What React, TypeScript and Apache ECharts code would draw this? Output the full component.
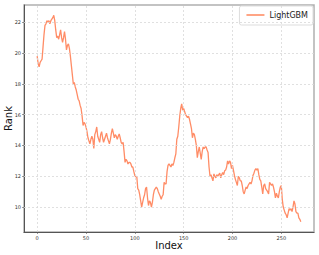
import React, { useEffect, useRef } from "react";
import * as echarts from "echarts";

const rankValues: number[] = [
  19.8, 19.3, 19.1, 19.4, 19.5, 19.6, 20.4, 21.2, 21.8, 21.9,
  22.1, 22.0, 22.1, 21.9, 22.1, 22.2, 22.3, 22.45, 22.1, 21.5,
  21.0, 21.1, 20.9, 21.2, 21.5, 21.0, 20.7, 21.0, 21.4, 20.9,
  20.2, 20.5, 20.6, 20.3, 19.8, 19.2, 18.6, 18.0, 18.1, 17.8,
  17.6, 17.3, 17.0, 16.9, 16.6, 16.4, 15.9, 15.3, 15.5, 15.4,
  15.2, 14.9, 14.5, 14.3, 14.1, 14.4, 14.6, 14.4, 13.8, 14.7,
  14.9, 15.2, 14.6, 14.4, 14.2, 14.7, 14.9, 14.5, 14.2, 14.4,
  14.6, 14.8, 14.5, 14.3, 14.1, 14.4, 14.8, 15.1, 14.8, 14.5,
  14.7, 14.6, 14.4, 14.6, 14.75, 14.5, 14.2, 14.1, 14.2, 13.6,
  12.9, 13.1, 13.0, 12.8, 12.9, 12.9, 12.8, 12.6, 12.6, 12.3,
  12.05, 11.95, 12.0, 11.2, 11.1, 10.8, 10.4, 10.0, 10.3, 10.6,
  10.8, 11.2, 11.3, 10.6, 10.1, 10.4, 10.3, 10.0, 10.3, 10.8,
  11.1, 11.2, 11.3, 11.2, 11.0, 10.85, 10.7, 10.5, 10.7, 10.8,
  11.6, 11.5, 11.5, 12.3, 12.7, 12.8, 12.7, 12.6, 12.8, 12.7,
  12.9, 13.2, 13.45, 14.4, 14.6, 15.2, 15.9, 16.4, 16.7, 16.3,
  16.4, 16.2, 16.0, 15.9, 15.8, 15.9, 15.7, 15.4, 15.1, 14.5,
  14.8, 14.7, 14.4, 14.0, 13.2, 13.6, 13.9, 13.5, 13.1, 13.6,
  13.9, 13.8, 13.9, 13.9, 13.7, 13.55, 12.6, 12.0, 12.1, 11.9,
  11.7, 12.15, 12.0, 11.9, 12.1, 12.0, 12.1, 12.2, 11.9, 12.1,
  12.25, 12.1, 12.35, 12.4, 12.6, 13.0, 12.8, 13.0, 12.9, 12.5,
  12.7, 12.4, 12.05, 11.8, 11.6, 11.4, 12.0, 11.9, 11.7, 11.7,
  11.4, 11.0, 10.85, 11.1, 11.3, 11.2, 11.4, 11.5, 11.6, 11.5,
  11.7, 12.05, 12.2, 12.4, 12.5, 12.4, 12.5, 12.1, 11.8, 11.7,
  11.3, 10.85, 11.4, 11.5, 11.2, 11.1, 11.0, 10.85, 11.6, 11.5,
  11.4, 11.5, 11.3, 11.0, 10.6, 10.9, 10.7, 10.6, 11.0, 11.3,
  11.4, 10.5, 10.0, 9.8, 9.6, 9.5, 9.3, 9.6, 9.9, 9.8,
  9.9, 9.7, 10.0, 10.4, 10.2, 9.7, 9.6, 9.6, 9.3, 9.2,
  9.05,
];

const xTicks: number[] = [0, 50, 100, 150, 200, 250];
const yTicks: number[] = [10, 12, 14, 16, 18, 20, 22];
const seriesName = "LightGBM";

export default function App() {
  const ref = useRef<HTMLDivElement>(null);
  useEffect(() => {
    if (!ref.current) return;
    const chart = echarts.init(ref.current, undefined, { renderer: "svg" });
    const data = rankValues.map((v, i) => [i, v]);
    const n = rankValues.length - 1;
    const ymin = Math.min(...rankValues);
    const ymax = Math.max(...rankValues);
    const ypad = (ymax - ymin) * 0.05;
    const gridStyle = { color: "#d8d8d8", type: [2, 2] as number[], width: 0.8 };
    chart.setOption({
      animation: false,
      backgroundColor: "#ffffff",
      grid: {
        left: 24,
        right: 5,
        top: 5,
        bottom: 23,
        containLabel: false,
        outerBoundsMode: "none",
        show: true,
        borderColor: "#b0b0b0",
        borderWidth: 1.5,
        backgroundColor: "transparent",
      },
      legend: {
        show: true,
        top: 6,
        right: 6,
        itemWidth: 18,
        itemHeight: 2,
        itemGap: 4,
        padding: [5, 5, 6, 7],
        borderColor: "#dddddd",
        borderWidth: 1,
        borderRadius: 2,
        backgroundColor: "#ffffff",
        icon: "rect",
        itemStyle: { color: "#ffa585" },
        textStyle: { fontSize: 8, color: "#222", fontFamily: "DejaVu Sans" },
        data: [seriesName],
      },
      xAxis: {
        type: "value",
        min: -n * 0.05,
        max: n * 1.05,
        name: "Index",
        nameLocation: "middle",
        nameGap: 8,
        nameMoveOverlap: false,
        nameTextStyle: { fontSize: 10, color: "#111", fontFamily: "DejaVu Sans" },
        axisLine: { show: true, onZero: false, lineStyle: { color: "#555", width: 1 } },
        axisTick: { show: true, length: 2, customValues: xTicks, lineStyle: { color: "#555", width: 0.6 } },
        axisLabel: { customValues: xTicks, fontSize: 5, color: "#333", margin: 3, fontFamily: "DejaVu Sans" },
        splitLine: { show: false },
      },
      yAxis: {
        type: "value",
        min: ymin - ypad,
        max: ymax + ypad,
        name: "Rank",
        nameLocation: "middle",
        nameGap: 11,
        nameMoveOverlap: false,
        nameTextStyle: { fontSize: 10, color: "#111", fontFamily: "DejaVu Sans" },
        axisLine: { show: true, onZero: false, lineStyle: { color: "#555", width: 1 } },
        axisTick: { show: true, length: 2, customValues: yTicks, lineStyle: { color: "#555", width: 0.6 } },
        axisLabel: { customValues: yTicks, fontSize: 5, color: "#333", margin: 3, fontFamily: "DejaVu Sans" },
        splitLine: { show: false },
      },
      series: [
        {
          name: "grid",
          type: "line",
          data: [],
          silent: true,
          z: 1,
          markLine: {
            silent: true,
            symbol: "none",
            label: { show: false },
            lineStyle: gridStyle,
            data: [
              ...xTicks.map((t) => ({ xAxis: t })),
              ...yTicks.map((t) => ({ yAxis: t })),
            ],
          },
        },
        {
          name: seriesName,
          type: "line",
          data,
          z: 3,
          showSymbol: false,
          symbol: "none",
          lineStyle: { color: "#ff8c66", width: 1.3 },
          itemStyle: { color: "#ffa585" },
        },
      ],
    });
    return () => chart.dispose();
  }, []);
  return (
    <div
      ref={ref}
      style={{ position: "fixed", left: 0, top: 0, width: 319, height: 255 }}
    />
  );
}
